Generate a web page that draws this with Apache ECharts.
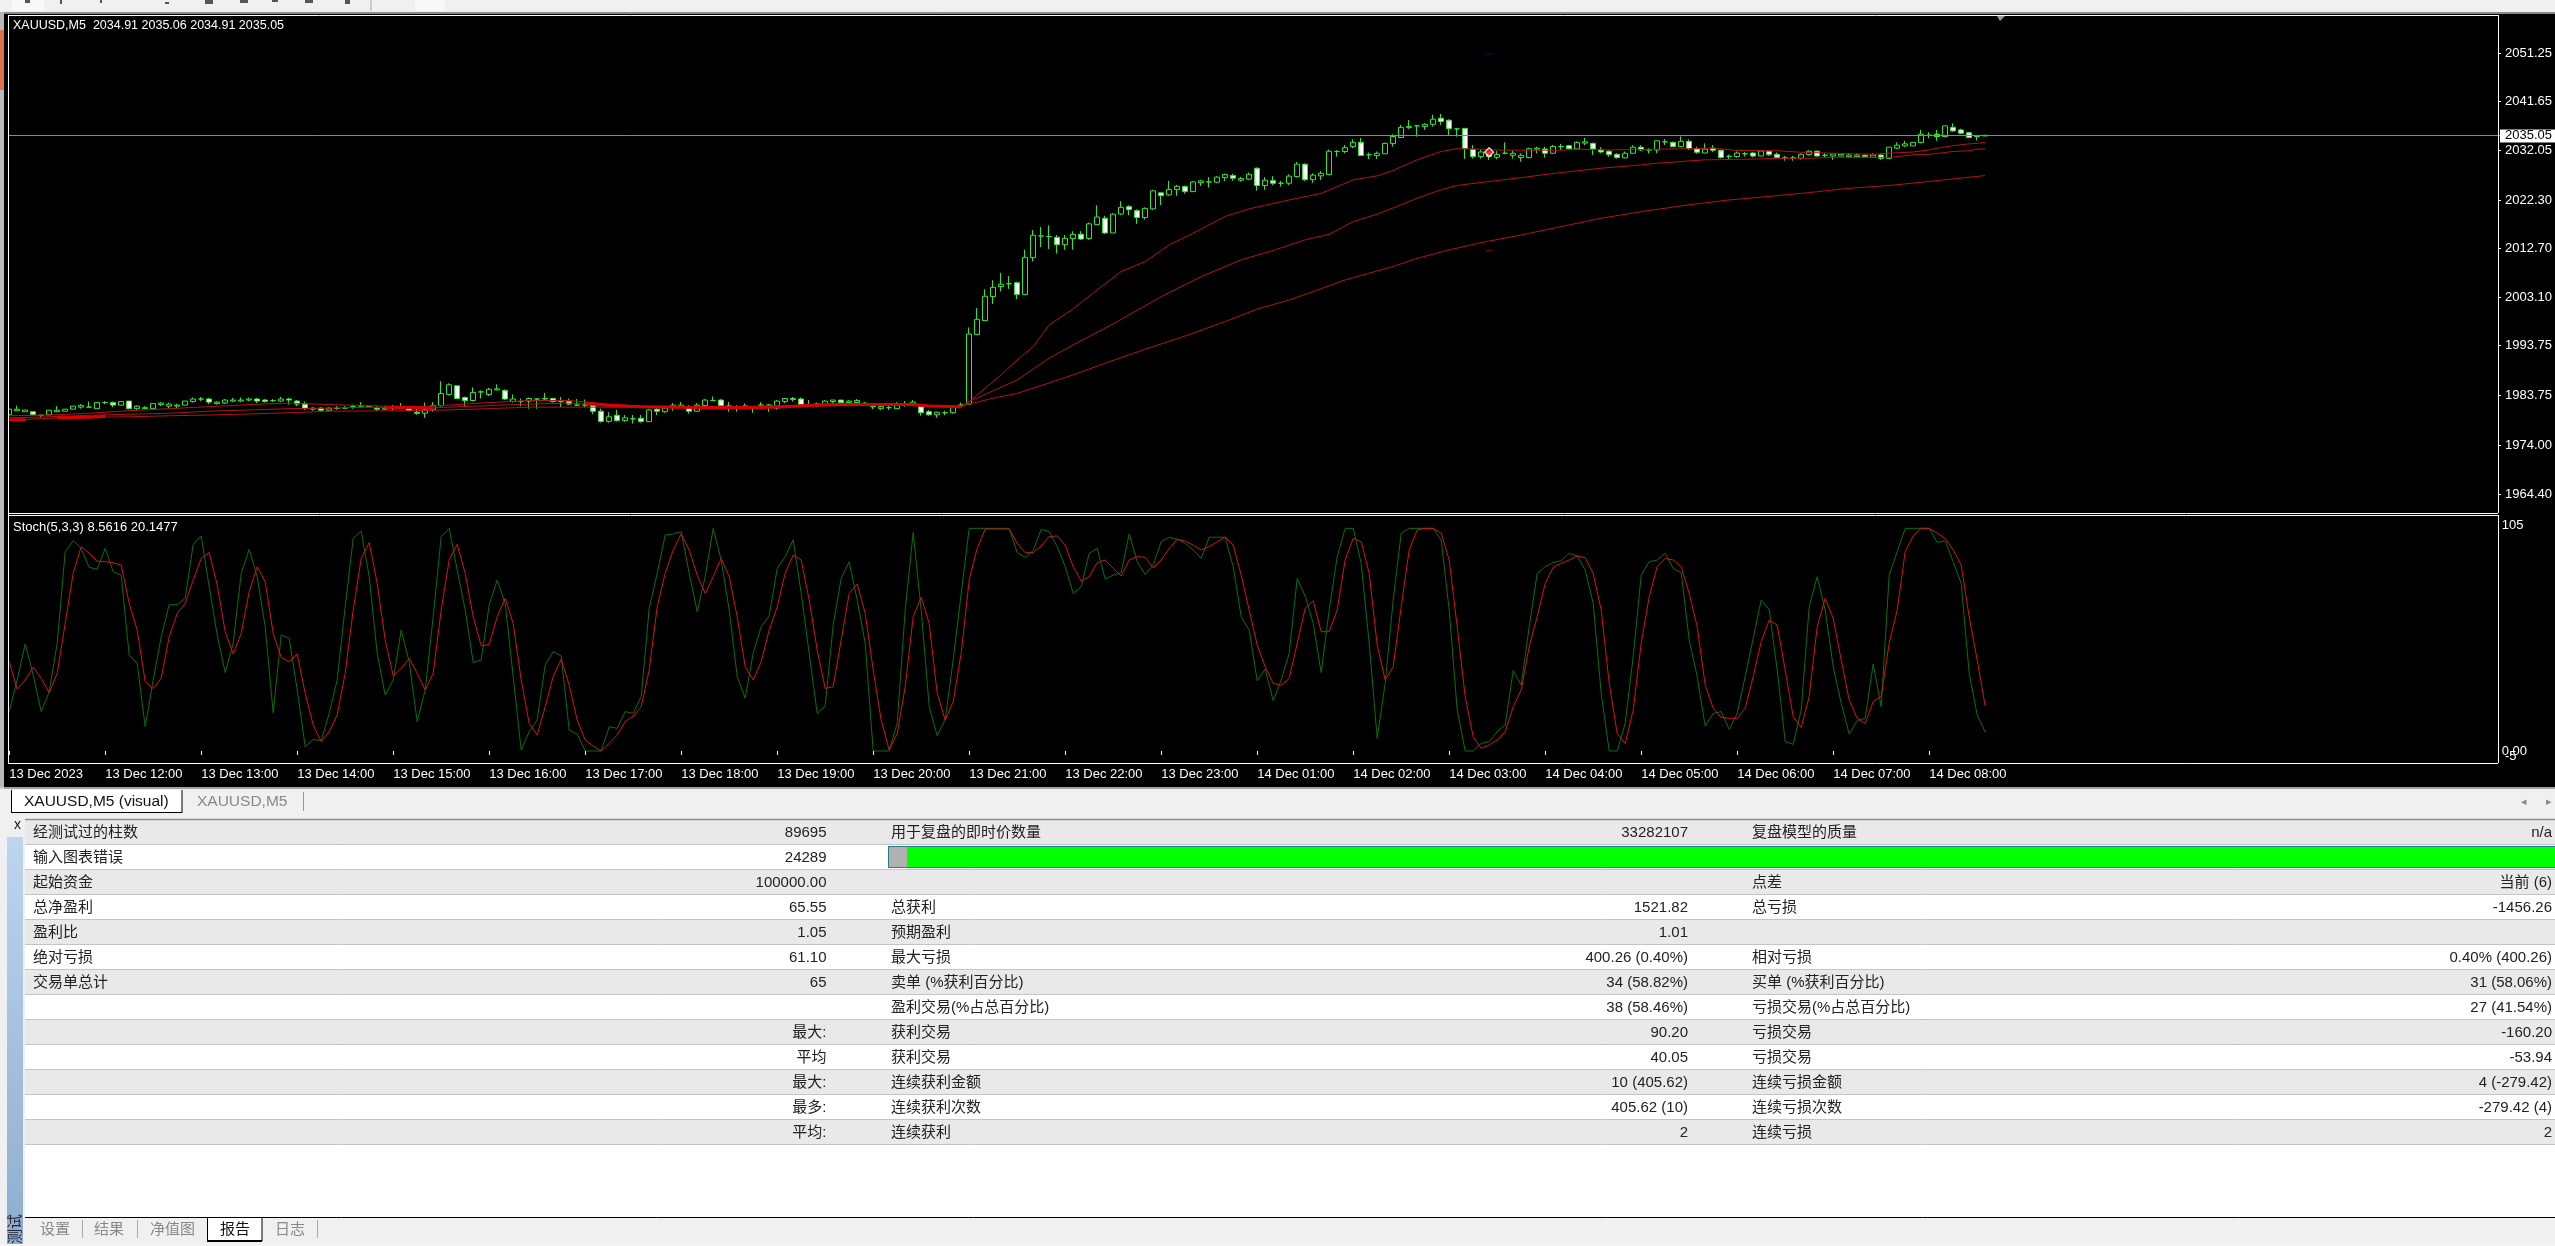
<!DOCTYPE html>
<html><head><meta charset="utf-8">
<style>html,body{margin:0;padding:0;background:#f0f0f0}#c{width:2555px;height:1246px}</style>
<script src="https://cdn.jsdelivr.net/npm/echarts@6/dist/echarts.min.js"></script>
</head><body><div id="c"></div>
<script>
const opens=[1980.0,1980.8,1980.6,1980.6,1979.9,1980.0,1980.6,1980.7,1981.1,1981.5,
1981.5,1981.2,1982.4,1982.4,1981.9,1982.7,1981.2,1981.2,1981.2,1982.0,
1981.7,1981.7,1981.9,1982.6,1983.1,1983.1,1982.2,1982.3,1982.7,1982.7,
1982.9,1983.1,1982.9,1982.8,1982.7,1983.1,1982.7,1982.1,1981.1,1981.3,
1980.9,1981.2,1981.3,1981.6,1981.7,1981.6,1981.3,1981.1,1981.3,1981.5,
1981.3,1980.5,1980.3,1981.0,1981.8,1984.0,1985.7,1983.4,1982.8,1984.5,
1984.0,1984.9,1984.8,1982.6,1982.6,1982.7,1983.1,1983.1,1983.2,1982.6,
1982.6,1981.9,1981.9,1981.9,1980.7,1978.7,1979.9,1978.85,1979.2,1979.3,
1978.65,1981.1,1980.6,1981.4,1981.6,1981.6,1980.7,1981.8,1982.8,1982.9,
1981.7,1981.3,1981.7,1981.3,1981.9,1981.9,1981.3,1982.6,1983.0,1983.1,
1982.0,1982.1,1981.9,1982.6,1982.9,1982.4,1982.4,1982.1,1981.6,1981.2,
1981.4,1981.2,1981.9,1982.2,1981.6,1980.6,1980.0,1980.4,1980.4,1981.9,
1982.1,1995.8,1998.55,2003.3,2005.25,2005.8,2006.0,2003.7,2010.95,2015.2,
2015.1,2014.95,2013.5,2014.7,2015.55,2014.7,2017.45,2018.7,2015.8,2019.55,
2021.0,2020.2,2018.85,2020.55,2023.7,2023.3,2024.35,2024.95,2023.95,2025.7,
2025.85,2025.8,2026.7,2027.1,2026.2,2026.4,2028.55,2025.15,2026.1,2025.6,
2025.6,2026.9,2029.35,2026.3,2027.05,2027.3,2031.85,2031.85,2032.8,2033.65,
2031.2,2031.05,2031.4,2033.4,2034.6,2036.55,2036.9,2036.75,2037.2,2038.4,
2038.0,2036.3,2036.4,2032.25,2030.85,2031.85,2030.7,2031.5,2031.1,2030.65,
2030.65,2032.3,2032.35,2031.5,2032.8,2033.0,2032.35,2033.5,2033.45,2032.15,
2031.9,2031.3,2030.6,2031.5,2032.7,2032.15,2032.15,2033.75,2033.65,2032.8,
2033.85,2032.35,2031.55,2032.5,2032.1,2030.9,2030.85,2031.4,2031.55,2030.95,
2031.85,2031.3,2030.6,2030.6,2030.5,2031.25,2031.9,2031.1,2030.95,2030.95,
2030.85,2030.85,2031.1,2030.7,2031.15,2030.5,2032.5,2032.95,2032.95,2033.6,
2035.05,2035.25,2034.8,2036.6,2036.1,2035.55,2034.8,2034.91];
const closes=[1981.1,1981.1,1980.95,1980.0,1979.9,1980.9,1980.9,1981.1,1981.7,1981.8,
1981.5,1982.4,1982.4,1981.9,1982.6,1981.2,1981.7,1981.4,1982.2,1982.3,
1982.1,1981.9,1982.7,1983.1,1983.1,1982.5,1982.5,1982.9,1982.9,1982.9,
1983.1,1982.7,1982.6,1982.8,1983.1,1982.9,1982.1,1981.3,1981.3,1980.9,
1981.3,1981.3,1981.3,1981.6,1981.7,1981.7,1981.1,1981.3,1981.3,1981.5,
1980.8,1980.3,1981.0,1981.8,1984.2,1985.9,1983.2,1982.8,1984.4,1984.5,
1985.0,1985.1,1983.1,1983.1,1982.6,1983.2,1983.1,1983.2,1982.6,1982.6,
1982.1,1981.9,1981.9,1980.7,1978.7,1979.6,1978.85,1979.4,1979.2,1978.65,
1980.95,1980.7,1981.3,1981.9,1981.9,1980.7,1981.9,1982.9,1982.8,1981.8,
1981.7,1981.3,1981.7,1981.3,1981.9,1981.9,1982.7,1983.2,1983.2,1982.0,
1982.0,1982.1,1982.7,1982.9,1982.4,1982.7,1982.8,1982.3,1981.6,1981.6,
1981.4,1981.9,1981.9,1982.5,1980.4,1980.0,1980.5,1980.4,1981.4,1981.9,
1995.9,1998.8,2003.34,2005.1,2005.7,2005.8,2003.7,2011.0,2015.35,2015.2,
2015.1,2013.5,2014.75,2015.55,2014.6,2017.6,2018.95,2015.8,2019.5,2020.85,
2020.4,2018.85,2020.65,2024.1,2023.15,2024.35,2025.0,2023.95,2025.85,2026.05,
2025.85,2026.8,2027.3,2026.6,2026.5,2027.35,2025.15,2026.2,2025.6,2025.6,
2027.0,2029.35,2026.3,2027.2,2027.55,2031.9,2031.85,2032.6,2033.65,2031.05,
2031.2,2031.5,2033.45,2034.8,2036.6,2036.8,2036.9,2037.2,2038.2,2037.75,
2036.35,2036.3,2032.4,2030.85,2031.75,2030.85,2031.25,2031.5,2031.5,2031.1,
2032.4,2032.5,2031.5,2032.85,2032.8,2032.4,2033.65,2033.75,2032.35,2031.75,
2031.25,2030.65,2031.5,2032.7,2032.15,2032.15,2033.95,2033.75,2032.8,2033.85,
2032.4,2031.7,2032.3,2032.1,2030.65,2030.9,2031.55,2031.4,2030.95,2031.95,
2031.25,2030.65,2030.6,2030.6,2031.3,2031.9,2030.95,2031.1,2031.35,2031.3,
2031.15,2031.15,2030.8,2031.15,2030.5,2032.7,2033.1,2033.35,2033.65,2035.25,
2035.05,2034.8,2036.9,2035.9,2035.45,2034.6,2034.8,2035.05];
const lows=[1980.0,1980.8,1980.6,1979.8,1979.4,1980.0,1980.5,1980.7,1981.1,1981.2,
1981.5,1981.2,1982.1,1981.5,1981.9,1981.1,1980.95,1981.1,1981.2,1981.7,
1981.3,1981.3,1981.9,1982.4,1982.7,1982.1,1982.0,1982.1,1982.5,1982.5,
1982.7,1982.3,1982.4,1982.5,1982.5,1982.0,1981.7,1980.95,1980.8,1980.75,
1980.75,1981.0,1981.1,1981.2,1981.5,1981.5,1980.75,1981.1,1980.95,1981.1,
1980.7,1980.0,1979.4,1980.6,1981.6,1983.8,1983.2,1981.7,1982.6,1983.2,
1983.7,1984.8,1982.9,1982.4,1981.7,1981.2,1981.2,1982.9,1982.4,1981.5,
1981.9,1981.7,1981.5,1980.1,1978.45,1978.45,1978.65,1978.6,1978.25,1978.45,
1978.65,1979.95,1980.4,1980.8,1981.5,1980.2,1980.6,1981.7,1982.7,1981.7,
1980.6,1980.6,1981.6,1980.4,1981.6,1980.6,1981.0,1982.3,1982.6,1981.9,
1981.6,1981.5,1981.9,1982.1,1982.1,1982.1,1982.1,1982.0,1981.1,1980.95,
1980.95,1981.1,1981.6,1982.1,1979.8,1979.8,1979.4,1979.95,1980.2,1981.6,
1981.9,1995.8,1998.5,2001.8,2004.3,2004.8,2002.8,2003.7,2010.2,2013.05,
2012.65,2011.75,2012.5,2012.5,2014.4,2014.45,2017.45,2015.6,2015.8,2019.35,
2019.3,2017.6,2018.45,2020.35,2021.3,2023.15,2023.1,2023.55,2023.9,2025.05,
2024.75,2025.7,2026.05,2026.1,2025.9,2026.2,2024.15,2024.3,2025.25,2024.95,
2025.25,2026.7,2026.05,2025.7,2026.25,2027.2,2030.85,2031.5,2032.5,2031.05,
2030.35,2030.4,2031.4,2032.8,2034.6,2036.3,2034.8,2036.1,2036.75,2037.1,
2034.9,2034.8,2030.4,2030.45,2030.45,2030.2,2030.3,2031.3,2030.45,2029.85,
2030.5,2031.5,2030.65,2031.4,2032.15,2032.3,2032.3,2033.1,2031.2,2031.5,
2030.85,2030.45,2030.5,2031.45,2031.95,2031.45,2031.55,2033.15,2032.75,2032.7,
2032.15,2031.4,2031.55,2031.75,2030.5,2030.35,2030.65,2030.85,2030.75,2030.95,
2030.95,2030.5,2030.05,2030.05,2030.25,2031.05,2030.9,2030.7,2030.2,2030.95,
2030.7,2030.7,2030.7,2030.65,2030.2,2030.4,2032.3,2032.75,2032.95,2033.45,
2034.45,2033.95,2034.8,2035.75,2035.25,2034.45,2034.0,2034.91];
const highs=[1981.1,1981.8,1980.95,1980.6,1979.95,1980.9,1981.7,1981.1,1981.7,1982.1,
1982.6,1982.4,1982.7,1982.6,1982.6,1982.7,1981.9,1981.7,1982.2,1982.5,
1982.4,1982.2,1982.7,1983.4,1983.5,1983.3,1982.7,1983.1,1983.3,1983.4,
1983.4,1983.3,1983.1,1983.1,1983.5,1983.3,1982.9,1982.6,1981.5,1981.5,
1981.5,1981.7,1981.7,1982.0,1982.5,1981.9,1981.7,1981.7,1981.9,1982.3,
1981.5,1981.2,1982.4,1982.5,1986.6,1986.2,1985.7,1983.6,1985.4,1984.8,
1985.3,1986.0,1985.0,1984.0,1983.2,1983.4,1983.2,1984.3,1983.2,1983.5,
1983.2,1983.1,1983.0,1982.1,1981.2,1980.5,1980.95,1979.95,1979.95,1979.95,
1981.1,1981.4,1981.7,1982.3,1982.5,1981.9,1982.3,1983.1,1983.6,1983.1,
1982.5,1981.9,1982.2,1981.6,1982.5,1982.1,1982.9,1983.3,1983.5,1983.4,
1982.9,1982.4,1982.9,1982.9,1982.9,1982.9,1983.1,1982.5,1982.3,1981.7,
1981.9,1982.5,1982.7,1982.9,1981.9,1980.95,1980.6,1980.8,1981.9,1982.4,
1997.2,2001.0,2004.7,2006.5,2007.95,2007.3,2006.2,2012.5,2016.4,2017.0,
2017.3,2015.4,2015.4,2016.15,2016.15,2017.85,2021.25,2019.2,2019.7,2022.05,
2021.25,2020.45,2020.85,2024.3,2023.8,2026.05,2025.25,2025.15,2026.05,2026.3,
2026.8,2027.0,2027.5,2027.45,2026.85,2027.7,2028.7,2026.8,2027.0,2026.05,
2027.35,2029.8,2029.5,2027.55,2028.0,2032.25,2032.15,2033.15,2034.25,2034.5,
2031.65,2031.85,2033.6,2035.25,2037.1,2038.05,2037.1,2037.4,2039.1,2039.25,
2038.2,2036.5,2036.4,2033.1,2032.15,2032.15,2031.95,2033.65,2032.0,2031.5,
2032.6,2032.8,2032.8,2033.15,2033.35,2033.15,2033.85,2034.5,2033.6,2032.7,
2032.15,2031.5,2031.85,2033.1,2033.1,2032.5,2033.95,2034.3,2033.8,2034.8,
2034.25,2032.8,2033.45,2033.1,2032.15,2031.25,2031.85,2031.75,2031.7,2032.0,
2031.95,2031.65,2031.0,2031.0,2031.45,2032.05,2032.05,2031.55,2031.35,2031.3,
2031.5,2031.5,2031.3,2031.5,2031.5,2032.7,2033.65,2033.95,2033.65,2036.1,
2035.65,2036.1,2036.9,2037.4,2036.35,2035.7,2034.9,2035.06];
// moving averages: [bar index, price] readings
const maFast=[[0,1979.8],[5,1979.95],[10,1980.3],[15,1980.8],[20,1981.2],[25,1981.6],[30,1982.0],[35,1982.3],[40,1982.0],[45,1981.8],[50,1981.5],[55,1981.9],[60,1982.4],[65,1982.8],[70,1982.8],[75,1982.1],[80,1981.6],[85,1981.5],[90,1981.6],[95,1981.7],[100,1981.9],[105,1982.1],[110,1982.0],[115,1981.7],[119,1981.6],[120,1982.6],[124,1987.85],[126,1990.8],[128,1993.4],[130,1997.7],[133,2000.85],[136,2004.6],[139,2008.2],[142,2010.15],[145,2013.45],[148,2015.75],[152,2019.05],[155,2020.55],[160,2022.3],[164,2023.6],[168,2026.25],[171,2027.05],[173,2028.1],[176,2030.2],[179,2031.85],[181,2032.4],[183,2032.35],[187,2032.1],[194,2032.1],[196,2032.3],[200,2032.15],[206,2032.3],[210,2032.4],[213,2032.5],[216,2032.05],[221,2032.0],[224,2031.7],[228,2031.5],[233,2031.3],[235,2031.5],[238,2031.75],[240,2032.15],[241,2032.5],[243,2033.0],[245,2033.35],[246,2033.45],[247,2033.65]];
const maMid=[[0,1979.4],[5,1979.6],[10,1979.9],[15,1980.1],[20,1980.3],[25,1980.7],[30,1980.95],[35,1981.2],[40,1981.3],[45,1981.5],[50,1981.2],[55,1981.5],[60,1981.8],[65,1982.1],[70,1982.3],[75,1981.9],[80,1981.7],[85,1981.6],[90,1981.6],[95,1981.7],[100,1981.8],[105,1982.0],[110,1982.1],[115,1981.7],[119,1981.6],[120,1982.6],[126,1986.85],[130,1991.15],[133,1993.75],[138,1997.9],[144,2003.25],[149,2007.2],[154,2010.5],[158,2012.35],[162,2014.45],[165,2015.55],[168,2018.05],[171,2019.5],[174,2021.35],[176,2022.65],[179,2024.3],[181,2025.15],[184,2025.75],[189,2026.7],[194,2027.7],[199,2028.55],[204,2029.2],[206,2029.55],[208,2029.75],[210,2030.0],[212,2030.2],[218,2030.35],[221,2030.5],[225,2030.5],[228,2030.7],[235,2030.7],[237,2031.0],[238,2031.2],[240,2031.3],[242,2031.65],[243,2031.85],[245,2032.0],[246,2032.3],[247,2032.35]];
const maSlow=[[0,1978.95],[5,1979.3],[10,1979.5],[15,1979.6],[20,1979.8],[25,1979.95],[30,1980.15],[35,1980.4],[40,1980.7],[45,1980.75],[50,1980.8],[55,1980.95],[60,1981.2],[65,1981.5],[70,1981.5],[75,1981.5],[80,1981.5],[85,1981.5],[90,1981.5],[95,1981.6],[100,1981.7],[105,1981.8],[110,1981.9],[115,1981.7],[119,1981.6],[120,1982.1],[123,1983.25],[126,1984.2],[129,1985.75],[133,1987.85],[137,1990.15],[142,1992.9],[147,1995.5],[152,1998.35],[156,2000.8],[160,2002.6],[163,2004.25],[167,2006.55],[173,2009.2],[176,2010.8],[180,2012.45],[184,2013.9],[189,2015.4],[194,2017.05],[199,2018.7],[204,2020.0],[210,2021.35],[215,2022.3],[220,2023.0],[225,2023.75],[230,2024.6],[235,2025.15],[240,2025.95],[243,2026.45],[247,2027.1]];
// stretches where the averages run on top of each other and read as a thick red band
const maOverlap=[[0,1979.0],[2,1979.0],[3,null],[6,1979.4],[10,1979.5],[12,1979.7],[13,null],[47,1981.5],[50,1981.5],[53,1981.3],[54,null],[72,1982.2],[75,1981.8],[79,1981.6],[86,1981.45],[94,1981.45],[97,1981.6],[100,1981.85],[103,1982.0],[110,1982.0],[113,1982.0],[115,1981.75],[119,1981.6]];
const stochK=[17.7,31.9,48.1,34.1,17.7,26.6,48.4,89.5,94.5,91.0,
82.5,81.6,91.0,80.5,79.0,43.1,39.4,10.9,31.9,51.3,
65.7,65.7,68.6,92.8,96.6,73.8,52.1,35.2,48.4,79.8,
90.6,78.3,55.8,17.2,52.1,50.6,27.4,1.9,5.2,4.6,
16.9,31.9,64.8,95.5,98.8,78.3,43.9,25.1,31.9,54.3,
40.1,13.2,27.4,60.3,96.3,100,81.3,63.3,39.7,40.9,
65.6,76.8,66.3,33.4,0.4,8.7,13.9,38.6,44.6,42.7,
9.4,7.6,0,0,0,10.9,10.2,17.7,16.9,24.4,
64.1,79.8,97.0,97.5,98.5,79.8,62.6,78.3,100,85.8,
63.3,33.4,23.7,43.9,55.8,60.6,82.0,87.3,94.8,70.8,
43.9,16.9,20.2,56.6,77.5,85.0,67.8,48.4,0,0,
0,12.4,63.3,98.1,63.3,19.9,6.9,14.2,40.9,70.8,
100,100,100,100,100,100,89.1,87.0,90.0,99.6,
98.5,91.8,82.8,70.8,73.8,88.8,91.0,77.2,79.0,80.1,
97.5,85.0,79.3,83.5,94.0,96.0,95.1,93.3,90.3,86.5,
96,96,96,82.8,60.3,54.3,31.6,36.8,22.6,31.9,
43.9,77.5,69.6,57.3,35.2,63.3,87.3,100,100,84.3,
48.4,5.7,30.4,67.8,97.8,100,100,100,100,94.8,
63.3,18.4,0,0,3.4,4.2,8.7,11.7,36.1,29.6,
55.8,79.8,82.8,84.7,85.5,88.8,87.6,81.3,66.3,25.9,
0,0,12.4,42.4,79.0,85.0,85.8,88.8,82.0,80.1,
49.9,33.4,11.2,16.9,17.7,9.7,16.9,33.4,50.6,67.8,
63.6,36.4,4.2,3.0,18.4,64.8,78.3,63.3,37.9,21.4,
7.6,13.6,14.7,39.1,19.9,79.0,89.5,100,100,100,
100,93.7,94.3,85.0,75.3,34.9,16.2,8.56];
const stochD=[40.1,27.7,31.9,37.6,32.6,26.2,34.9,57.3,79.8,91.8,
88.8,85.3,85.0,84.6,83.5,66.3,54.3,31.1,28.1,32.6,
51.3,61.8,66.3,76.8,86.5,89.2,74.6,53.6,43.6,52.8,
71.6,82.8,76.0,52.8,42.1,40.1,43.6,25.9,11.7,4.2,
8.7,16.2,34.9,63.3,86.5,93.6,75.3,49.9,33.8,37.1,
41.6,34.9,27.4,34.9,63.3,85.8,92.8,79.8,60.3,47.2,
47.9,60.3,68.6,57.3,31.9,12.4,7.2,19.9,33.4,41.2,
29.6,13.9,4.9,2.2,0,3.4,7.2,13.2,15.7,19.9,
36.4,64.8,79.8,90.3,97.5,90.3,79.0,70.8,78.3,86.5,
78.3,60.3,37.9,31.9,40.1,54.3,64.8,79.8,88.0,85.8,
67.8,45.4,28.1,28.9,49.9,70.8,75.0,61.8,36.4,13.9,
0.4,7.9,28.9,60.3,69.0,57.3,25.9,13.9,22.2,43.9,
76.8,91.0,99.7,99.7,99.7,99.7,93.3,89.1,89.1,92.1,
96.3,96.6,92.5,82.8,76.3,78.3,84.6,85.8,82.0,78.6,
85.8,87.3,87.0,82.3,85.8,91.0,95.1,94.3,92.5,90.3,
91.8,94.0,96.0,92.5,79.0,63.3,47.6,37.9,30.4,29.6,
32.6,48.4,64.1,67.5,53.6,53.6,63.3,85.8,95.5,94.0,
79.8,47.6,31.9,37.9,64.8,90.3,99.3,100,100,97.8,
85.8,55.8,24.4,6.4,1.2,2.7,4.9,8.7,19.9,27.4,
46.9,60.3,75.3,82.5,84.3,85.8,87.6,86.8,79.8,63.3,
30.4,7.9,3.4,18.4,48.4,69.3,82.8,86.5,85.8,82.8,
70.8,55.8,29.6,19.2,15.1,14.7,14.7,19.2,33.4,49.1,
58.8,56.6,36.4,15.4,10.6,24.4,55.8,68.6,59.6,40.9,
22.9,14.7,12.4,22.2,24.7,48.4,63.3,89.5,96.6,100,
100,97.8,95.5,90.3,83.5,60.3,40.9,20.15];
const hourLabels=['13 Dec 2023','13 Dec 12:00','13 Dec 13:00','13 Dec 14:00','13 Dec 15:00','13 Dec 16:00','13 Dec 17:00','13 Dec 18:00','13 Dec 19:00','13 Dec 20:00','13 Dec 21:00','13 Dec 22:00','13 Dec 23:00','14 Dec 01:00','14 Dec 02:00','14 Dec 03:00','14 Dec 04:00','14 Dec 05:00','14 Dec 06:00','14 Dec 07:00','14 Dec 08:00'];
const priceTicks=[2051.25,2041.65,2032.05,2022.30,2012.70,2003.10,1993.75,1983.75,1974.00,1964.40];
const lastPrice=2035.05;
const stochTicks=[105,0];
const stochFloorLabel='-5';
const tradeMark=[[185,2031.7]];
const redDash=[[185,2012.3]];
const blueDash=[[185,2051.05]];
const headerMain='XAUUSD,M5  2034.91 2035.06 2034.91 2035.05';
const headerStoch='Stoch(5,3,3) 8.5616 20.1477';
const reportRows=[
['经测试过的柱数','89695','用于复盘的即时价数量','33282107','复盘模型的质量','n/a'],
['输入图表错误','24289','','','',''],
['起始资金','100000.00','','','点差','当前 (6)'],
['总净盈利','65.55','总获利','1521.82','总亏损','-1456.26'],
['盈利比','1.05','预期盈利','1.01','',''],
['绝对亏损','61.10','最大亏损','400.26 (0.40%)','相对亏损','0.40% (400.26)'],
['交易单总计','65','卖单 (%获利百分比)','34 (58.82%)','买单 (%获利百分比)','31 (58.06%)'],
['','','盈利交易(%占总百分比)','38 (58.46%)','亏损交易(%占总百分比)','27 (41.54%)'],
['','最大:','获利交易','90.20','亏损交易','-160.20'],
['','平均','获利交易','40.05','亏损交易','-53.94'],
['','最大:','连续获利金额','10 (405.62)','连续亏损金额','4 (-279.42)'],
['','最多:','连续获利次数','405.62 (10)','连续亏损次数','-279.42 (4)'],
['','平均:','连续获利','2','连续亏损','2']];
const bottomTabs=['设置','结果','净值图','报告','日志'];

const BARS=312;
const categories=Array.from({length:BARS},(_,i)=>(i%12===0&&hourLabels[i/12])?hourLabels[i/12]:'');
const candles=opens.map((o,i)=>[o,closes[i],lows[i],highs[i]]);
const FONT='"Liberation Sans","Noto Sans CJK SC",sans-serif';
const G=[];
const rect=(x,y,w,h,fill,z)=>G.push({type:'rect',silent:true,z:z||-1,shape:{x,y,width:w,height:h},style:{fill}});
const line=(x1,y1,x2,y2,stroke,z,lw)=>G.push({type:'line',silent:true,z:z||30,shape:{x1,y1,x2,y2},style:{stroke,lineWidth:lw||1}});
const txt=(x,y,text,o)=>{o=o||{};G.push({type:'text',silent:true,z:o.z||30,x,y,rotation:o.rot||0,style:{text,fill:o.fill||'#222',font:(o.size||15)+'px '+FONT,textAlign:o.align||'left',textVerticalAlign:'middle'}});};

// window chrome
rect(0,0,2555,12,'#f0f0f0');
rect(0,12,2555,2,'#8a8a8a');
rect(12,0,32,11,'#f8f8f8');rect(415,0,30,11,'#f8f8f8');
[[25,0,5,3],[60,0,2,4],[100,0,2,3],[165,2,4,2],[205,0,8,4],[240,0,8,3],[272,0,6,2],[305,0,8,3],[345,0,5,4]].forEach(a=>rect(a[0],a[1],a[2],a[3],'#555'));
line(371,0,371,11,'#aaa',1);
rect(0,14,2555,775,'#000');
rect(0,12,4,777,'#b8b8b8');
rect(0,30,4,60,'#d9734e');
// frames
line(8,15.5,2498,15.5,'#fff');line(2498.5,15,2498.5,513,'#fff');line(8,513.5,2498,513.5,'#fff');
rect(4,15,4,748,'#000',25);line(8.5,15,8.5,763,'#fff');
line(8,515.5,2498,515.5,'#fff');line(2498.5,515,2498.5,763,'#fff');line(8,763.5,2498,763.5,'#fff');
line(0,788,2555,788,'#d8d8d8',30,1.5);
rect(2499,15,56,750,'#000',3);
rect(2500,129.5,55,13,'#ffffff',8);
G.push({type:'polygon',silent:true,z:30,shape:{points:[[1997,16],[2005,16],[2000,21]]},style:{fill:'#999'}});
txt(13,26,headerMain,{fill:'#fff',size:12.5});
txt(13,527,headerStoch,{fill:'#fff',size:13});
txt(2505,756,stochFloorLabel,{fill:'#fff',size:13});
// upper tabs
rect(0,789,2555,31,'#f0f0f0');
rect(12,790,170,22,'#fff');
line(11.5,790,11.5,813,'#000');line(182,790,182,813,'#000');line(12,812.5,182,812.5,'#000');
txt(24,802,'XAUUSD,M5 (visual)',{size:15.5,fill:'#111'});
txt(197,802,'XAUUSD,M5',{size:15.5,fill:'#888'});
line(303.5,792,303.5,811,'#999');
txt(2521,802,'◂',{size:11,fill:'#888'});txt(2546,802,'▸',{size:11,fill:'#888'});
// report table
rect(0,820,2555,426,'#fff');
rect(0,820,7,426,'#f0f0f0');rect(7,820,18,426,'#f0f0f0');
txt(14,825,'x',{size:14,fill:'#111'});
G.push({type:'rect',silent:true,z:-1,shape:{x:7,y:837,width:16,height:407},style:{fill:new echarts.graphic.LinearGradient(0,0,0,1,[{offset:0,color:'#bdd5ef'},{offset:1,color:'#8eadcf'}])}});
txt(16,1229,'测试',{size:15,rot:Math.PI/2,align:'center',fill:'#223'});
line(25,819.5,2555,819.5,'#8f8f8f',30,1.5);
reportRows.forEach((r,i)=>{
  const y=820+25*i;
  rect(25,y,2530,25,i%2?'#fff':'#e9e9e9');
  line(25,y+24.5,2555,y+24.5,'#c4c4c4');
  const cy=y+13;
  if(r[0])txt(33,cy,r[0]);
  if(r[1])txt(826.5,cy,r[1],{align:'right'});
  if(r[2])txt(891,cy,r[2]);
  if(r[3])txt(1688,cy,r[3],{align:'right'});
  if(r[4])txt(1752,cy,r[4]);
  if(r[5])txt(2552,cy,r[5],{align:'right'});
});
// modelling quality bar
rect(888,846,1667,22,'#1f7f8f',1);
rect(889,847,1666,20,'#00ff00',2);
rect(889,847,18,20,'#b0b0b0',3);
// lower tabs
rect(25,1218,2530,28,'#f0f0f0');
rect(0,1244,2555,2,'#f4f4f4');
line(25,1217.5,2555,1217.5,'#000');
rect(207,1218,55,23,'#fff');
line(207.5,1218,207.5,1241,'#000');line(262,1218,262,1241,'#000');line(207,1241,262,1241,'#000',30,2);
const tabX=[40,94,150,220,275],sepX=[82,137,317];
bottomTabs.forEach((t,i)=>txt(tabX[i],1230,t,{size:15,fill:i===3?'#111':'#888'}));
sepX.forEach(x=>line(x+.5,1220,x+.5,1238,'#aaa'));

const base={type:'line',silent:true,showSymbol:false,animation:false,connectNulls:true,xAxisIndex:0,yAxisIndex:0,clip:true};
const chart=echarts.init(document.getElementById('c'),null,{width:2555,height:1246});
chart.setOption({
  animation:false,
  backgroundColor:'#f0f0f0',
  graphic:{elements:G},
  grid:[
    {left:5.2,top:15,width:BARS*8,height:497,containLabel:false},
    {left:5.2,top:515,width:BARS*8,height:248,containLabel:false}
  ],
  xAxis:[
    {type:'category',gridIndex:0,data:categories,show:false,boundaryGap:true},
    {type:'category',gridIndex:1,data:categories,boundaryGap:true,position:'bottom',z:10,
     axisLine:{show:false},
     axisTick:{show:true,alignWithLabel:true,length:4,inside:false,lineStyle:{color:'#fff'},interval:(i)=>categories[i]!==''},
     axisLabel:{interval:(i)=>categories[i]!=='',align:'left',color:'#fff',fontFamily:FONT,fontSize:13,margin:5,hideOverlap:false,showMinLabel:true,showMaxLabel:true},
     splitLine:{show:false}}
  ],
  yAxis:[
    {type:'value',gridIndex:0,position:'right',offset:-3,min:1960.85,max:2058.73,z:10,scale:true,
     axisLine:{show:false},splitLine:{show:false},
     axisTick:{show:true,length:3,lineStyle:{color:'#fff'},customValues:priceTicks},
     axisLabel:{color:'#fff',fontFamily:FONT,fontSize:13,margin:7,showMinLabel:true,showMaxLabel:true,hideOverlap:false,customValues:priceTicks.concat([lastPrice]),
       formatter:(v)=>v===lastPrice?'{cur|'+v.toFixed(2)+'}':v.toFixed(2),
       rich:{cur:{color:'#000',fontFamily:FONT,fontSize:13}}}},
    {type:'value',gridIndex:1,position:'right',offset:-3,min:-5.39,max:106,z:10,
     axisLine:{show:false},splitLine:{show:false},axisTick:{show:false},
     axisLabel:{color:'#fff',fontFamily:FONT,fontSize:13,margin:3.5,showMinLabel:true,showMaxLabel:true,hideOverlap:false,customValues:stochTicks,
       formatter:(v)=>v===105?'{t|105}':'0.00',
       rich:{t:{color:'#fff',fontFamily:FONT,fontSize:13,padding:[16,0,0,0]}}}}
  ],
  series:[
    Object.assign({},base,{name:'MA slow',data:maSlow,lineStyle:{color:'#b01515',width:1},z:3}),
    Object.assign({},base,{name:'MA mid',data:maMid,lineStyle:{color:'#b01515',width:1},z:3}),
    Object.assign({},base,{name:'MA fast',data:maFast,lineStyle:{color:'#b01515',width:1},z:3}),
    Object.assign({},base,{name:'MA overlap',data:maOverlap,connectNulls:false,lineStyle:{color:'#d80000',width:3},z:3}),
    {type:'candlestick',name:'XAUUSD,M5',xAxisIndex:0,yAxisIndex:0,data:candles,barWidth:5,silent:true,z:2,animation:false,
     itemStyle:{color:'#000',color0:'#fff',borderColor:'#2ee62e',borderColor0:'#2ee62e',borderColorDoji:'#2ee62e',borderWidth:1},
     markLine:{silent:true,symbol:'none',animation:false,label:{show:false},data:[{yAxis:lastPrice}],lineStyle:{color:'#7f8a93',width:1,type:'solid'}}},
    {type:'scatter',name:'trade',xAxisIndex:0,yAxisIndex:0,data:tradeMark,symbol:'diamond',symbolSize:9,silent:true,z:5,animation:false,itemStyle:{color:'#f00000',borderColor:'#fff',borderWidth:1.5}},
    {type:'scatter',name:'stop',xAxisIndex:0,yAxisIndex:0,data:redDash,symbol:'rect',symbolSize:[7,1],silent:true,z:5,animation:false,itemStyle:{color:'#a01010'}},
    {type:'scatter',name:'take',xAxisIndex:0,yAxisIndex:0,data:blueDash,symbol:'rect',symbolSize:[7,1],silent:true,z:5,animation:false,itemStyle:{color:'#1010a0'}},
    Object.assign({},base,{name:'Stoch main',xAxisIndex:1,yAxisIndex:1,data:stochK,lineStyle:{color:'#0c700c',width:1},z:3}),
    Object.assign({},base,{name:'Stoch signal',xAxisIndex:1,yAxisIndex:1,data:stochD,lineStyle:{color:'#d81414',width:1},z:4})
  ]
});
</script></body></html>
